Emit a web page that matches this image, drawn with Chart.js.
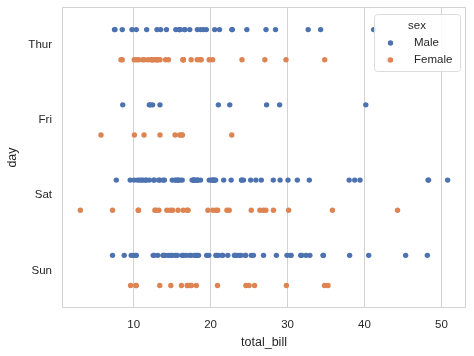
<!DOCTYPE html>
<html>
<head>
<meta charset="utf-8">
<script src="https://cdn.jsdelivr.net/npm/chart.js@4/dist/chart.umd.min.js"></script>
<style>
  html, body { margin: 0; padding: 0; background: #fff; }
  #wrap { width: 474px; height: 356px; }
</style>
</head>
<body>
<div id="wrap"><canvas id="c" width="474" height="356"></canvas></div>
<script>
// Categories and series
const days = ["Thur", "Fri", "Sat", "Sun"];
const sexes = ["Male", "Female"];
const xTicks = [10, 20, 30, 40, 50];

const thurMale = [27.20, 22.76, 17.29, 19.44, 16.66, 32.68, 15.98, 13.03, 18.28, 24.71, 21.16, 11.69, 14.26, 15.95, 8.52, 22.82, 19.08, 16.00, 34.30, 41.19, 9.78, 7.51, 28.44, 15.48, 16.58, 7.56, 10.34, 13.51, 18.71, 20.53];
const thurFemale = [10.07, 34.83, 10.65, 12.43, 24.08, 13.42, 12.48, 29.80, 14.52, 11.38, 20.27, 11.17, 12.26, 18.26, 8.51, 10.33, 14.15, 13.16, 17.47, 27.05, 16.43, 8.35, 18.64, 11.87, 19.81, 43.11, 13.00, 12.74, 13.00, 16.40, 16.47, 18.78];
const friMale = [28.97, 22.49, 40.17, 27.28, 12.03, 21.01, 12.46, 12.16, 8.58, 13.42];
const friFemale = [5.75, 16.32, 22.75, 11.35, 15.38, 13.42, 15.98, 16.27, 10.09];
const satMale = [20.65, 17.92, 39.42, 19.82, 17.81, 13.37, 12.69, 21.70, 9.55, 18.35, 17.78, 24.06, 16.31, 18.69, 31.27, 16.04, 38.01, 11.24, 48.27, 20.29, 13.81, 11.02, 18.29, 17.59, 20.08, 20.23, 15.01, 12.02, 10.51, 17.92, 15.36, 20.49, 25.21, 18.24, 14.00, 50.81, 15.81, 26.59, 38.73, 24.27, 30.06, 25.89, 48.33, 28.15, 11.59, 7.74, 20.45, 13.28, 24.01, 15.69, 11.61, 10.77, 15.53, 10.07, 12.60, 32.83, 29.03, 22.67, 17.82];
const satFemale = [20.29, 15.77, 19.65, 15.06, 20.69, 16.93, 26.41, 16.45, 3.07, 17.07, 26.86, 25.28, 14.73, 44.30, 22.42, 20.92, 14.31, 7.25, 10.59, 10.63, 12.76, 13.27, 28.17, 12.90, 30.14, 22.12, 35.83, 27.18];
const sunMale = [10.34, 21.01, 23.68, 25.29, 8.77, 26.88, 15.04, 14.78, 10.27, 15.42, 18.43, 21.58, 16.29, 17.46, 13.94, 9.68, 30.40, 18.29, 22.23, 32.40, 28.55, 18.04, 12.54, 9.94, 25.56, 19.49, 38.07, 23.95, 29.93, 14.07, 13.13, 17.26, 24.55, 19.77, 48.17, 16.49, 21.50, 12.66, 13.81, 24.52, 20.76, 31.71, 7.25, 31.85, 16.82, 32.90, 17.89, 14.48, 34.63, 34.65, 23.33, 45.35, 23.17, 40.55, 20.69, 30.46, 23.10, 15.69];
const sunFemale = [16.99, 24.59, 35.26, 14.83, 10.33, 16.97, 10.29, 34.81, 25.71, 17.31, 29.85, 25.00, 13.39, 16.21, 17.51, 9.60, 20.90, 18.15];

const maleByDay = [thurMale, friMale, satMale, sunMale];
const femaleByDay = [thurFemale, friFemale, satFemale, sunFemale];

const colors = { Male: "#4c72b0", Female: "#dd8452" };
const dodge = 0.2;

function buildPoints(groups, offset) {
  const pts = [];
  groups.forEach((vals, i) => vals.forEach(v => pts.push({ x: v, y: i + offset })));
  return pts;
}

const allVals = [].concat(...maleByDay, ...femaleByDay);
const vMin = Math.min(...allVals), vMax = Math.max(...allVals);
const margin = (vMax - vMin) * 0.05;

const FONT = "'Liberation Sans', Arial, 'DejaVu Sans', sans-serif";
const TEXT = "#262626";
const GRID = "#d3d3d3";

function noPad(s) { s.paddingTop = 0; s.paddingBottom = 0; s.paddingLeft = 0; s.paddingRight = 0; }

const framePlugin = {
  id: "frame",
  beforeDatasetsDraw(chart) {
    const { ctx, chartArea: a } = chart;
    ctx.save();
    ctx.strokeStyle = GRID;
    ctx.lineWidth = 1;
    ctx.strokeRect(Math.round(a.left) + 0.5, Math.round(a.top) + 0.5, Math.round(a.right - a.left) - 1, Math.round(a.bottom - a.top) - 1);
    ctx.restore();
  }
};

const legendPlugin = {
  id: "innerLegend",
  afterDatasetsDraw(chart) {
    const { ctx, chartArea: a } = chart;
    const w = 86, h = 57;
    const x = a.right - 6 - w, y = a.top + 7;
    ctx.save();
    ctx.beginPath();
    ctx.roundRect(x + 0.5, y + 0.5, w, h, 3);
    ctx.fillStyle = "rgba(255,255,255,0.85)";
    ctx.fill();
    ctx.strokeStyle = "#dcdcdc";
    ctx.lineWidth = 1;
    ctx.stroke();
    ctx.font = "11.5px " + FONT;
    ctx.fillStyle = TEXT;
    ctx.textBaseline = "middle";
    ctx.textAlign = "center";
    ctx.fillText("sex", x + w / 2, y + 12);
    ctx.textAlign = "left";
    sexes.forEach((s, i) => {
      const yy = y + 29 + i * 17;
      ctx.beginPath();
      ctx.arc(x + 16.5, yy, 2.7, 0, Math.PI * 2);
      ctx.fillStyle = colors[s];
      ctx.fill();
      ctx.fillStyle = TEXT;
      ctx.fillText(s, x + 40, yy);
    });
    ctx.restore();
  }
};

new Chart(document.getElementById("c"), {
  type: "scatter",
  data: {
    datasets: [
      { label: "Male", data: buildPoints(maleByDay, -dodge), backgroundColor: colors.Male, borderWidth: 0, pointRadius: 2.7, pointHoverRadius: 2.7 },
      { label: "Female", data: buildPoints(femaleByDay, dodge), backgroundColor: colors.Female, borderWidth: 0, pointRadius: 2.7, pointHoverRadius: 2.7 }
    ]
  },
  options: {
    responsive: false,
    animation: false,
    events: [],
    layout: { padding: { top: 7, right: 8, left: 0, bottom: 0 } },
    plugins: { legend: { display: false }, tooltip: { enabled: false } },
    scales: {
      x: {
        type: "linear",
        min: vMin - margin,
        max: vMax + margin,
        afterBuildTicks: s => { s.ticks = xTicks.map(v => ({ value: v })); },
        afterFit: s => { s.height = 48; noPad(s); },
        grid: { color: GRID, lineWidth: 1, drawTicks: false },
        border: { display: false },
        ticks: { color: TEXT, font: { family: FONT, size: 11.5 }, padding: 10 },
        title: { display: true, text: "total_bill", color: TEXT, font: { family: FONT, size: 12.5 }, padding: { top: 0, bottom: 6 } }
      },
      y: {
        type: "linear",
        reverse: true,
        min: -0.5,
        max: 3.5,
        afterBuildTicks: s => { s.ticks = days.map((d, i) => ({ value: i })); },
        afterFit: s => { s.width = 62; noPad(s); },
        grid: { display: false, drawTicks: false },
        border: { display: false },
        ticks: { color: TEXT, font: { family: FONT, size: 11.5 }, padding: 10, callback: v => days[v] },
        title: { display: true, text: "day", color: TEXT, font: { family: FONT, size: 12.5 }, padding: { top: 5, bottom: 0 } }
      }
    }
  },
  plugins: [framePlugin, legendPlugin]
});
</script>
</body>
</html>
